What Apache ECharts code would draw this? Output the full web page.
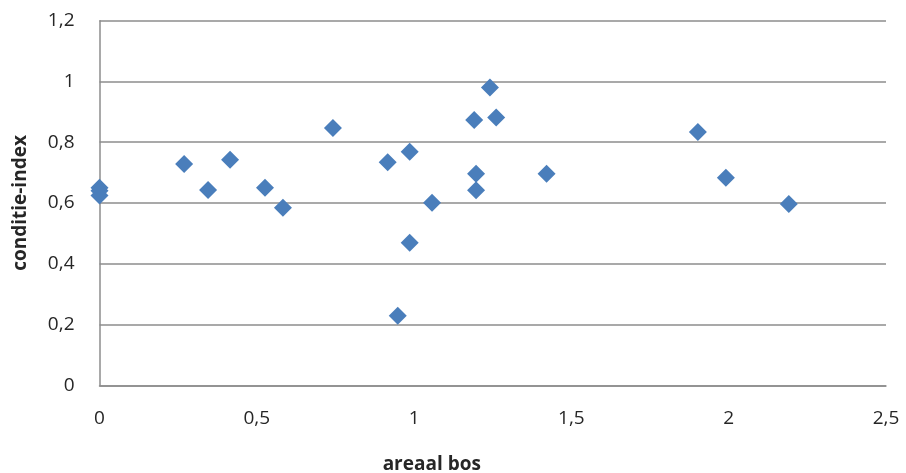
<!DOCTYPE html>
<html><head><meta charset="utf-8">
<script src="https://cdn.jsdelivr.net/npm/echarts@6/dist/echarts.min.js"></script>
<style>html,body{margin:0;padding:0;background:#fff}#c{width:906px;height:473px}</style>
</head><body><div id="c"></div>
<script>
const xValues = [0, 0, 0, 0.269, 0.345, 0.415, 0.526, 0.583, 0.742, 0.916, 0.948, 0.986, 0.986, 1.057, 1.191, 1.197, 1.197, 1.241, 1.261, 1.421, 1.902, 1.991, 2.191];
const yValues = [0.65, 0.64, 0.625, 0.728, 0.643, 0.742, 0.650, 0.584, 0.847, 0.734, 0.229, 0.769, 0.469, 0.601, 0.873, 0.696, 0.642, 0.980, 0.881, 0.696, 0.834, 0.683, 0.597];
const xTicks = [0, 0.5, 1, 1.5, 2, 2.5];
const yTicks = [0, 0.2, 0.4, 0.6, 0.8, 1, 1.2];
const xName = 'areaal bos';
const yName = 'conditie-index';

const fmt = v => String(Math.round(v * 10) / 10).replace('.', ',');
const chart = echarts.init(document.getElementById('c'));
chart.setOption({
  animation: false,
  grid: { left: 99.5, right: 20, top: 20.7, bottom: 87.7, containLabel: false, outerBoundsMode: 'none' },
  xAxis: {
    type: 'value', min: xTicks[0], max: xTicks[xTicks.length - 1], interval: 0.5,
    name: xName, nameLocation: 'middle', nameGap: 70,
    nameTextStyle: { fontFamily: 'Open Sans', fontSize: 19, fontWeight: 'bold', color: '#262626', padding: [0, 122, 0, 0] },
    axisLine: { show: true, lineStyle: { color: '#8c8c8c', width: 1.5 } },
    axisTick: { show: false },
    splitLine: { show: false },
    axisLabel: { formatter: fmt, fontFamily: 'Open Sans', fontSize: 19, color: '#262626', margin: 24 }
  },
  yAxis: {
    type: 'value', min: yTicks[0], max: yTicks[yTicks.length - 1], interval: 0.2,
    name: yName, nameLocation: 'middle', nameGap: 69, nameRotate: 90,
    nameTextStyle: { fontFamily: 'Open Sans', fontSize: 19, fontWeight: 'bold', color: '#262626' },
    axisLine: { show: true, lineStyle: { color: '#8c8c8c', width: 1.5 } },
    axisTick: { show: false },
    splitLine: { show: true, lineStyle: { color: '#8c8c8c', width: 1.5 } },
    axisLabel: { formatter: fmt, fontFamily: 'Open Sans', fontSize: 19, color: '#262626', margin: 25 }
  },
  series: [{
    type: 'scatter',
    symbol: 'diamond',
    symbolSize: [18, 18],
    itemStyle: { color: '#4a7ebb', opacity: 1 },
    data: xValues.map((x, i) => [x, yValues[i]])
  }]
});
</script></body></html>
